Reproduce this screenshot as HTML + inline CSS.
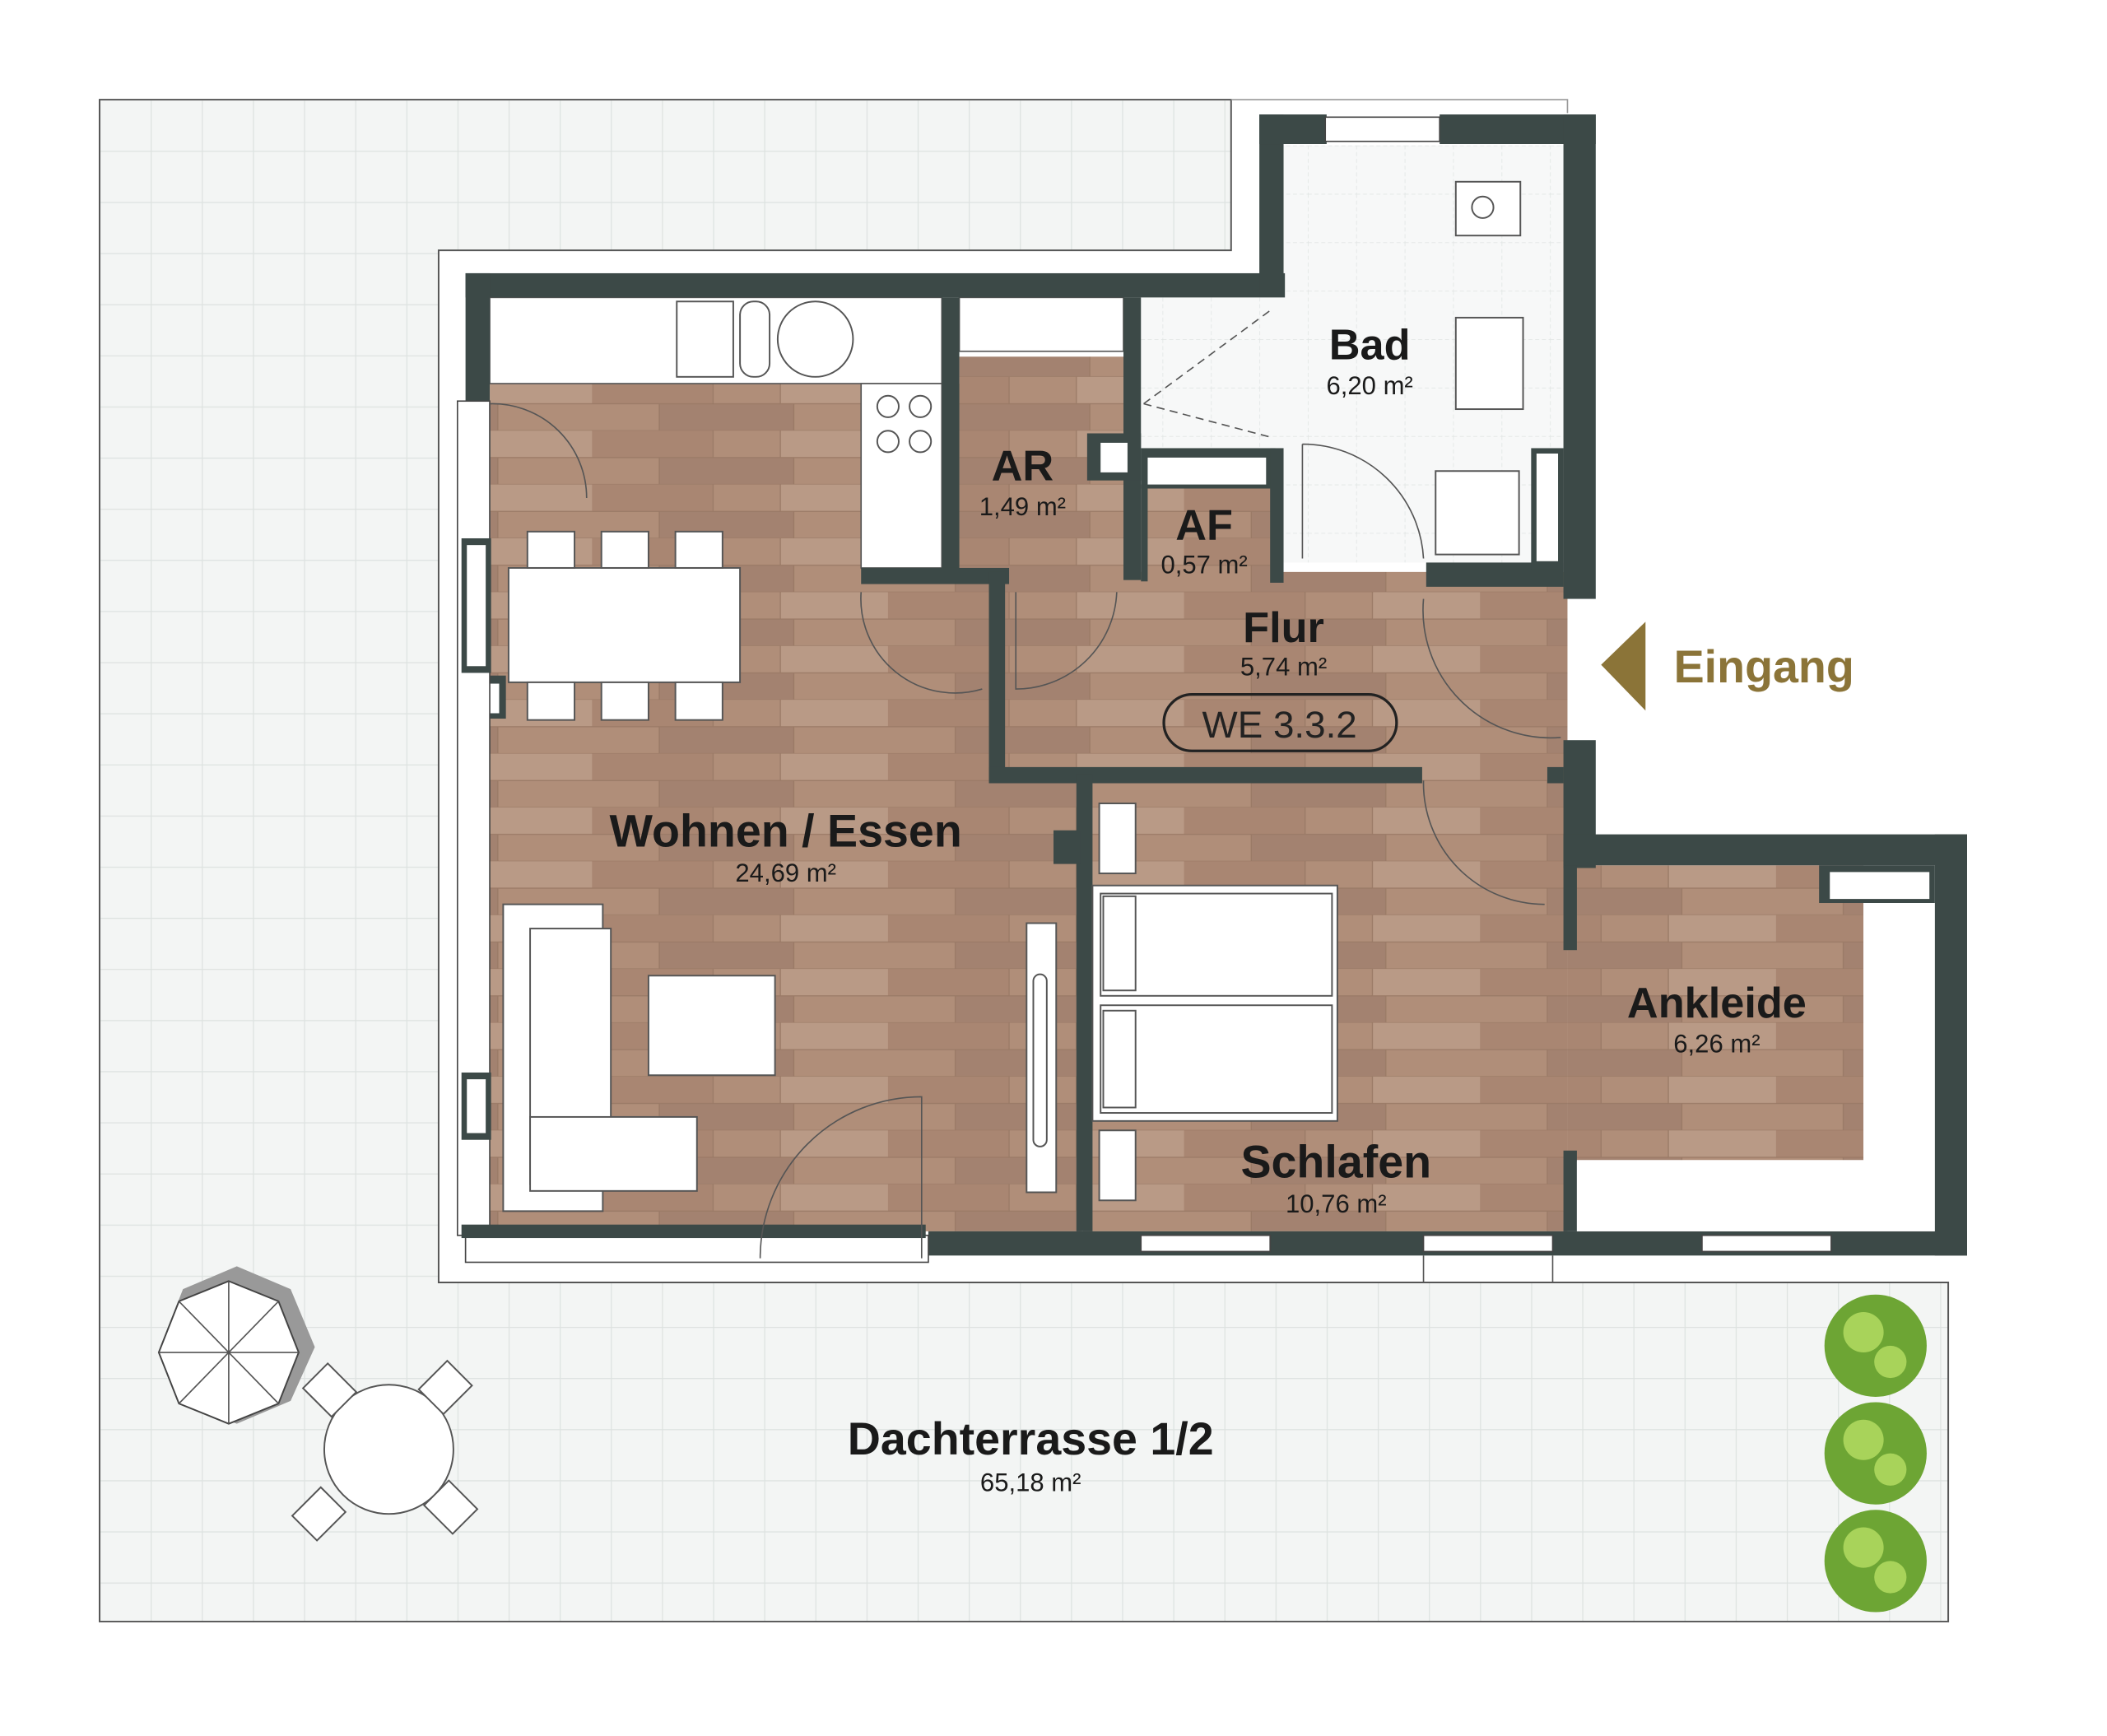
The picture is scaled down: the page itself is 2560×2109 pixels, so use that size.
<!DOCTYPE html>
<html><head><meta charset="utf-8"><style>
html,body{margin:0;padding:0;background:#fff}
svg{display:block}
text{font-family:"Liberation Sans",sans-serif}
</style></head><body>
<svg width="2560" height="2109" viewBox="0 0 1566 1290" xmlns="http://www.w3.org/2000/svg">
<defs>
<pattern id="tile" width="38" height="38" patternUnits="userSpaceOnUse" x="74" y="74">
<rect width="38" height="38" fill="#f3f5f4"/>
<path d="M0 0H38M0 0V38" stroke="#dde2e0" stroke-width="1.5"/>
</pattern>
<pattern id="wood" width="220" height="40" patternUnits="userSpaceOnUse">
<rect width="220" height="40" fill="#b08e79"/>
<rect x="0" y="0" width="90" height="20" fill="#a98672"/>
<rect x="140" y="0" width="80" height="20" fill="#b99a86"/>
<rect x="50" y="20" width="100" height="20" fill="#a38270"/>
<path d="M0 20H220M0 40H220M90 0V20M140 0V20M50 20V40M150 20V40" stroke="#9a7a66" stroke-width="0.8"/>
</pattern>
<pattern id="btile" width="36" height="36" patternUnits="userSpaceOnUse">
<rect width="36" height="36" fill="#f7f8f8"/>
<path d="M0 0H36M0 0V36" stroke="#e2e6e5" stroke-width="1" stroke-dasharray="3 2"/>
</pattern>
</defs>
<path d="M74 74H915V186H326V953H1448V1205H74Z" fill="url(#tile)" stroke="#555" stroke-width="1.2"/>
<path d="M915 74H1165V84" fill="none" stroke="#999" stroke-width="1"/>
<rect x="364" y="285" width="440" height="630" fill="url(#wood)"/>
<rect x="713" y="265" width="125" height="170" fill="url(#wood)"/>
<rect x="735" y="425" width="430" height="155" fill="url(#wood)"/>
<rect x="805" y="575" width="360" height="340" fill="url(#wood)"/>
<rect x="1165" y="643" width="220" height="220" fill="url(#wood)"/>
<rect x="954" y="108" width="208" height="113" fill="url(#btile)"/>
<rect x="848" y="221" width="314" height="197" fill="url(#btile)"/>
<rect x="848" y="360" width="100" height="70" fill="url(#wood)"/>
<rect x="364" y="221" width="336" height="64" fill="#fff" stroke="#555" stroke-width="1"/>
<rect x="640" y="285" width="60" height="137" fill="#fff" stroke="#555" stroke-width="1"/>
<rect x="713" y="221" width="122" height="40" fill="#fff" stroke="#555" stroke-width="1"/>
<g fill="#3c4947">
<rect x="346" y="203" width="609" height="18"/>
<rect x="346" y="203" width="18" height="95"/>
<rect x="936" y="85" width="18" height="135"/>
<rect x="936" y="85" width="50" height="22"/>
<rect x="1070" y="85" width="116" height="22"/>
<rect x="1162" y="85" width="24" height="360"/>
<rect x="1162" y="550" width="24" height="95"/>
<rect x="1162" y="620" width="300" height="23"/>
<rect x="1438" y="620" width="24" height="313"/>
<rect x="690" y="915" width="772" height="18"/>
<rect x="700" y="221" width="13" height="210"/>
<rect x="640" y="422" width="110" height="12"/>
<rect x="835" y="221" width="13" height="210"/>
<rect x="808" y="322" width="40" height="35"/>
<rect x="848" y="333" width="100" height="30"/>
<rect x="944" y="333" width="10" height="100"/>
<rect x="848" y="360" width="5" height="72"/>
<rect x="1060" y="418" width="102" height="18"/>
<rect x="1138" y="333" width="24" height="90"/>
<rect x="735" y="425" width="12" height="155"/>
<rect x="735" y="570" width="322" height="12"/>
<rect x="800" y="575" width="12" height="340"/>
<rect x="783" y="617" width="20" height="25"/>
<rect x="1150" y="570" width="12" height="12"/>
<rect x="1162" y="643" width="10" height="63"/>
<rect x="1162" y="855" width="10" height="60"/>
<rect x="1352" y="643" width="86" height="28"/>
<rect x="342" y="502" width="34" height="32"/>
</g>
<rect x="818" y="329" width="20" height="22" fill="#fff"/>
<rect x="853" y="340" width="88" height="20" fill="#fff"/>
<rect x="1142" y="337" width="16" height="80" fill="#fff"/>
<rect x="1360" y="648" width="74" height="20" fill="#fff"/>
<rect x="1172" y="862" width="266" height="53" fill="#fff"/>
<rect x="1385" y="671" width="53" height="191" fill="#fff"/>
<rect x="347" y="508" width="24" height="22" fill="#fff"/>
<g fill="#fff" stroke="#444" stroke-width="1">
<rect x="340" y="298" width="24" height="620"/>
<rect x="346" y="918" width="344" height="20"/>
<rect x="985" y="87" width="85" height="18"/>
<rect x="848" y="918" width="96" height="12"/>
<rect x="1058" y="918" width="96" height="12"/>
<rect x="1265" y="918" width="96" height="12"/>
</g>
<g fill="#3c4947"><rect x="343" y="400" width="22" height="100"/><rect x="343" y="797" width="22" height="50"/><rect x="343" y="910" width="345" height="10"/></g>
<rect x="347" y="405" width="14" height="90" fill="#fff"/><rect x="347" y="802" width="14" height="40" fill="#fff"/>
<path d="M326 953H1165M1058 933V953M1154 933V953" stroke="#555" stroke-width="1" fill="none"/>
<g fill="none" stroke="#555" stroke-width="1">
<path d="M364 400V300A70 70 0 0 1 436 370"/>
<path d="M640 440A70 70 0 0 0 730 512"/>
<path d="M755 440V512A75 75 0 0 0 830 440"/>
<path d="M968 330V415M968 330A90 90 0 0 1 1058 415"/>
<path d="M1058 445A95 95 0 0 0 1160 548"/>
<path d="M1058 580A90 90 0 0 0 1148 672"/>
<path d="M565 935A120 120 0 0 1 685 815V935"/>
<path d="M850 300L945 230M850 300L945 325" stroke-dasharray="6 4"/>
</g>
<g fill="#fff" stroke="#555" stroke-width="1.2">
<rect x="378" y="422" width="172" height="85"/>
<rect x="392" y="395" width="35" height="27"/><rect x="447" y="395" width="35" height="27"/><rect x="502" y="395" width="35" height="27"/>
<rect x="392" y="507" width="35" height="28"/><rect x="447" y="507" width="35" height="28"/><rect x="502" y="507" width="35" height="28"/>
<rect x="374" y="672" width="74" height="228"/>
<rect x="394" y="690" width="60" height="190"/>
<rect x="394" y="830" width="124" height="55"/>
<rect x="482" y="725" width="94" height="74"/>
<rect x="763" y="686" width="22" height="200"/>
<rect x="768" y="724" width="10" height="128" rx="5"/>
<rect x="817" y="597" width="27" height="52"/>
<rect x="817" y="840" width="27" height="52"/>
<rect x="812" y="658" width="182" height="175"/>
<rect x="818" y="664" width="172" height="76"/><rect x="818" y="747" width="172" height="80"/>
<rect x="820" y="666" width="24" height="70"/><rect x="820" y="751" width="24" height="72"/>
<rect x="503" y="224" width="42" height="56"/>
<rect x="550" y="224" width="22" height="56" rx="10"/>
<circle cx="606" cy="252" r="28"/>
<circle cx="660" cy="302" r="8"/><circle cx="684" cy="302" r="8"/><circle cx="660" cy="328" r="8"/><circle cx="684" cy="328" r="8"/>
<rect x="1082" y="135" width="48" height="40"/><circle cx="1102" cy="154" r="8"/>
<rect x="1082" y="236" width="50" height="68"/>
<rect x="1067" y="350" width="62" height="62"/>
<circle cx="289" cy="1077" r="48"/>
<rect x="230" y="1020" width="30" height="26" transform="rotate(45 245 1033)"/>
<rect x="316" y="1018" width="30" height="26" transform="rotate(-45 331 1031)"/>
<rect x="222" y="1112" width="30" height="26" transform="rotate(-45 237 1125)"/>
<rect x="320" y="1107" width="30" height="26" transform="rotate(45 335 1120)"/>
</g>
<polygon points="170,945 210,962 228,1005 210,1045 170,1062 130,1045 113,1005 130,962" fill="#999" transform="translate(6,-4)"/>
<polygon points="170,952 207,967 222,1005 207,1043 170,1058 133,1043 118,1005 133,967" fill="#fff" stroke="#444" stroke-width="1.2"/>
<path d="M170 952V1058M118 1005H222M133 967L207 1043M207 967L133 1043" stroke="#555" stroke-width="1"/>
<g fill="#6da534"><circle cx="1394" cy="1000" r="38"/><circle cx="1394" cy="1080" r="38"/><circle cx="1394" cy="1160" r="38"/></g>
<g fill="#a8d35a"><circle cx="1385" cy="990" r="15"/><circle cx="1405" cy="1012" r="12"/><circle cx="1385" cy="1070" r="15"/><circle cx="1405" cy="1092" r="12"/><circle cx="1385" cy="1150" r="15"/><circle cx="1405" cy="1172" r="12"/></g>
<polygon points="1190,494 1223,462 1223,528" fill="#8b7438"/>
<text x="1244" y="507" font-size="34" font-weight="bold" fill="#8b7438">Eingang</text>
<g text-anchor="middle" fill="#1a1a1a">
<text x="1018" y="267" font-size="32" font-weight="bold">Bad</text><text x="1018" y="293" font-size="19">6,20 m²</text>
<text x="760" y="357" font-size="32" font-weight="bold">AR</text><text x="760" y="383" font-size="19">1,49 m²</text>
<text x="895" y="401" font-size="32" font-weight="bold">AF</text><text x="895" y="426" font-size="19">0,57 m²</text>
<text x="954" y="477" font-size="32" font-weight="bold">Flur</text><text x="954" y="502" font-size="19">5,74 m²</text>
<text x="584" y="629" font-size="34" font-weight="bold">Wohnen / Essen</text><text x="584" y="655" font-size="19">24,69 m²</text>
<text x="993" y="875" font-size="34" font-weight="bold">Schlafen</text><text x="993" y="901" font-size="19">10,76 m²</text>
<text x="1276" y="756" font-size="32" font-weight="bold">Ankleide</text><text x="1276" y="782" font-size="19">6,26 m²</text>
<text x="766" y="1081" font-size="34" font-weight="bold">Dachterrasse 1/2</text><text x="766" y="1108" font-size="19">65,18 m²</text>
</g>
<rect x="865" y="516" width="173" height="42" rx="21" fill="none" stroke="#222" stroke-width="2"/>
<text x="951" y="548" font-size="28" text-anchor="middle" fill="#222">WE 3.3.2</text>
</svg>
</body></html>
